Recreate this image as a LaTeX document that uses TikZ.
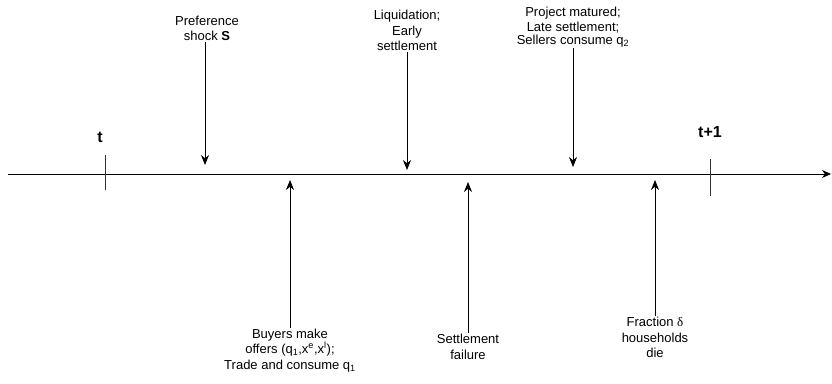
\documentclass[tikz,border=0pt]{standalone}
\usepackage{fontspec}
\setmainfont{Liberation Sans}
\newfontfamily\greekfont{Liberation Serif}
\usetikzlibrary{arrows.meta, positioning}

\begin{document}
\begin{tikzpicture}[
    x=1pt, y=-1pt,
    font=\fontsize{13}{15.5}\selectfont,
    event/.style={align=center, inner sep=1pt},
    evarrow/.style={-{Stealth[length=10pt, width=8pt]}, line width=0.8pt},
    tick/.style={line width=0.8pt, black!80},
    period/.style={font=\fontsize{16}{18}\selectfont\bfseries, inner sep=1pt}
    ]
    \useasboundingbox (0,0) rectangle (832,383);

    % time line
    \coordinate (start) at (8,174);
    \coordinate (end) at (831,174);
    \draw[-{Stealth[length=9pt, width=8pt]}, line width=0.8pt] (start) -- (end);

    \coordinate (t top) at (105,155);
    \coordinate (t bot) at (105,190);
    \coordinate (t1 top) at (710,159);
    \coordinate (t1 bot) at (710,196);
    \draw[tick] (t top) -- (t bot);
    \draw[tick] (t1 top) -- (t1 bot);
    \node[period, above=11pt of t top, xshift=-5pt] (tlab) {t};
    \node[period, above=20pt of t1 top] (t1lab) {t+1};

    % events above the line
    \node[event, anchor=south] (pref) at (207,42) {Preference\\shock \textbf{S}};
    \node[event, anchor=south] (liq) at (407,52) {Liquidation;\\Early\\settlement};
    \node[event, anchor=south] (proj) at (573,48) {Project matured;\\Late settlement;\\[-3pt]Sellers consume q\textsubscript{2}};

    \coordinate (pref tip) at (205,165);
    \coordinate (liq tip) at (407,170);
    \coordinate (proj tip) at (573,167);
    \draw[evarrow] (pref.south -| pref tip) -- (pref tip);
    \draw[evarrow] (liq.south) -- (liq tip);
    \draw[evarrow] (proj.south) -- (proj tip);

    % events below the line
    \node[event, anchor=north] (buy) at (290,328) {Buyers make\\[-1pt]offers (q\textsubscript{1},x\textsuperscript{e},x\textsuperscript{l});\\[1pt]Trade and consume q\textsubscript{1}};
    \node[event, anchor=north] (fail) at (468,333) {Settlement\\failure};
    \node[event, anchor=north] (frac) at (655,316) {Fraction {\greekfont δ}\\households\\die};

    \coordinate (buy tip) at (290,180);
    \coordinate (fail tip) at (468,182);
    \coordinate (frac tip) at (655,180);
    \draw[evarrow] (buy.north) -- (buy tip);
    \draw[evarrow] (fail.north) -- (fail tip);
    \draw[evarrow] (frac.north) -- (frac tip);
\end{tikzpicture}
\end{document}
